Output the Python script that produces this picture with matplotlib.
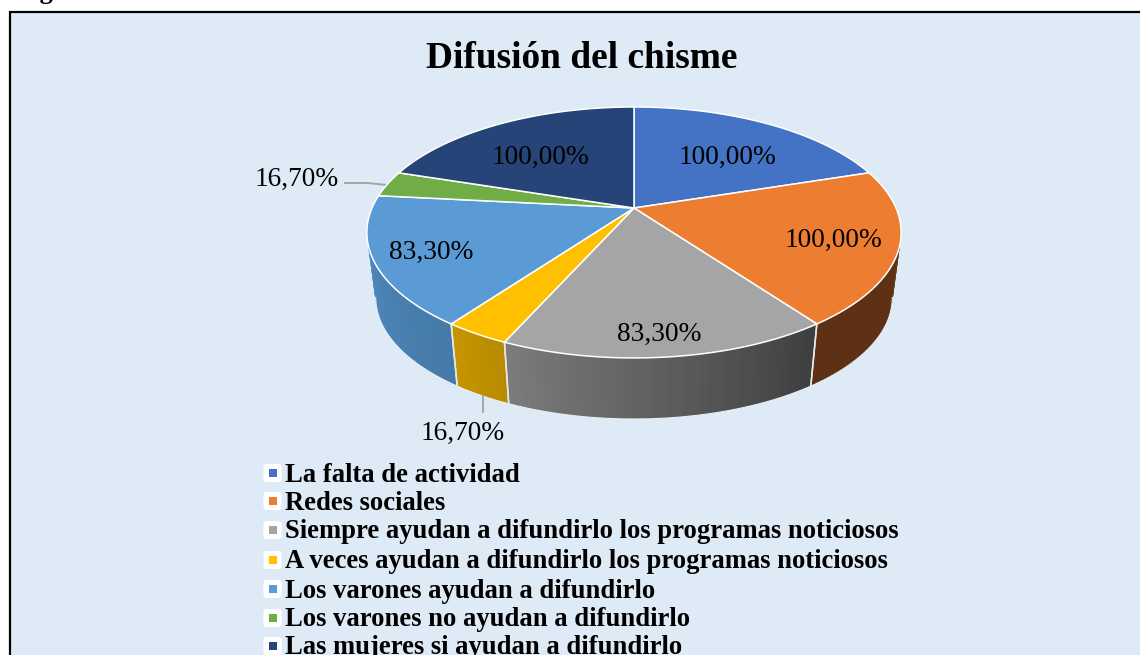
import numpy as np
import matplotlib

matplotlib.use("Agg")
import matplotlib.pyplot as plt
from matplotlib.patches import FancyBboxPatch, Rectangle

# ── Data ──
categories = [
    "La falta de actividad",
    "Redes sociales",
    "Siempre ayudan a difundirlo los programas noticiosos",
    "A veces ayudan a difundirlo los programas noticiosos",
    "Los varones ayudan a difundirlo",
    "Los varones no ayudan a difundirlo",
    "Las mujeres si ayudan a difundirlo",
]
values = [100.0, 100.0, 83.3, 16.7, 83.3, 16.7, 100.0]
title = "Difusión del chisme"

# ── Styles ──
colors = ["#4472C4", "#ED7D31", "#A5A5A5", "#FFC000", "#5B9BD5", "#70AD47", "#264478"]
wall_left = {1: "#5E3114", 2: "#7C7C7C", 3: "#C69600", 4: "#4F88BF"}
wall_right = {1: "#5E3114", 2: "#3E3E3E", 3: "#B88A00", 4: "#457AA6"}
BACKGROUND = "#DEEAF6"
LEADER = "#A6A6A6"
label_xy = [(727, 157), (833, 240), (659, 334), (463, 433), (431, 252), (297, 179), (540, 157)]
legend_y = [475, 503, 532, 562, 591, 620, 648]

# Pie geometry in picture pixels, the top face is a circle seen in perspective
CX, CY = 634, 208
RX, RY, PERSP = 262, 120.7, 0.195
BOTTOM_CY, BOTTOM_SCALE = 274, 0.967

plt.rcParams["font.family"] = ["Liberation Serif", "DejaVu Serif"]


def rim(theta, cy=CY, scale=1.0):
    """Project circle angles (degrees) to picture pixels."""
    t = np.radians(theta)
    d = 1 + PERSP * np.sin(t)
    return CX + scale * RX * np.cos(t) / d, cy - scale * RY * np.sin(t) / d


def mix(c1, c2, f):
    a, b = np.array(matplotlib.colors.to_rgb(c1)), np.array(matplotlib.colors.to_rgb(c2))
    return a + (b - a) * f


fig = plt.figure(figsize=(11.4, 6.55), dpi=100, facecolor="white")
ax = fig.add_axes([0, 0, 1, 1])
ax.set_xlim(0, 1140)
ax.set_ylim(655, 0)
ax.axis("off")

ax.add_patch(Rectangle((9.5, 11.5), 1200, 700, facecolor=BACKGROUND, edgecolor="black", linewidth=1.6))
ax.text(17, -1, "Figura", fontsize=19, fontweight="bold", va="baseline", ha="left")

# Slice boundaries, clockwise from twelve o'clock
edges = 90 - np.concatenate([[0], np.cumsum(values)]) / sum(values) * 360
SIDE_START, SIDE_END = -11.2, -168.8

# ── Side wall ──
for i in wall_left:
    hi = min(edges[i], SIDE_START)
    lo = max(edges[i + 1], SIDE_END)
    steps = np.linspace(hi, lo, 41)
    for j in range(40):
        # each strip runs on under the next one, so no seams show
        th = np.linspace(steps[j], steps[min(j + 2, 40)], 5)
        xt, yt = rim(th)
        xb, yb = rim(th, BOTTOM_CY, BOTTOM_SCALE)
        # gradient runs left to right on the screen, steps go right to left
        col = mix(wall_right[i], wall_left[i], (j + 0.5) / 40)
        ax.fill(np.r_[xt, xb[::-1]], np.r_[yt, yb[::-1]], color=col, linewidth=0, zorder=2)
    th = np.linspace(hi, lo, 80)
    xb, yb = rim(th, BOTTOM_CY, BOTTOM_SCALE)
    ax.plot(xb, yb, color="#EAF1F8", linewidth=0.8, zorder=3)
    if edges[i] < SIDE_START:
        x0, y0 = rim(edges[i])
        x1, y1 = rim(edges[i], BOTTOM_CY, BOTTOM_SCALE)
        ax.plot([x0, x1], [y0, y1], color="#E8E8E8", linewidth=1.1, zorder=3)
    if edges[i + 1] > SIDE_END:
        x0, y0 = rim(edges[i + 1])
        x1, y1 = rim(edges[i + 1], BOTTOM_CY, BOTTOM_SCALE)
        ax.plot([x0, x1], [y0, y1], color="#E8E8E8", linewidth=1.1, zorder=3)

# ── Top face ──
for i, color in enumerate(colors):
    th = np.linspace(edges[i], edges[i + 1], 120)
    x, y = rim(th)
    ax.fill(np.r_[CX, x], np.r_[CY, y], facecolor=color, edgecolor="white",
            linewidth=1.1, joinstyle="round", zorder=4)

# ── Leader lines ──
ax.plot([345, 368, 387], [183, 183, 185], color=LEADER, linewidth=1.4, zorder=3)
ax.plot([483, 483], [396, 412], color=LEADER, linewidth=1.4, zorder=3)

# ── Texts ──
ax.text(581.5, 58, title, fontsize=26.9, fontweight="bold", ha="center", va="center", zorder=6)
for v, (lx, ly) in zip(values, label_xy):
    ax.text(lx, ly, f"{v:.2f}%".replace(".", ","), fontsize=19.7, ha="center", va="center", zorder=6)

# ── Legend, cut off by the bottom of the picture as in the source ──
for name, color, ly in zip(categories, colors, legend_y):
    box_y = ly - 2
    ax.add_patch(FancyBboxPatch((264.5, box_y - 8), 16, 16, boxstyle="round,pad=0,rounding_size=2",
                                facecolor="white", edgecolor="white", linewidth=1.5, zorder=5))
    ax.add_patch(Rectangle((268.5, box_y - 4), 8, 8, facecolor=color, edgecolor="none", zorder=6))
    ax.text(285, ly, name, fontsize=19.2, fontweight="bold", ha="left", va="center", zorder=6)

fig.savefig("out.png", dpi=100)
